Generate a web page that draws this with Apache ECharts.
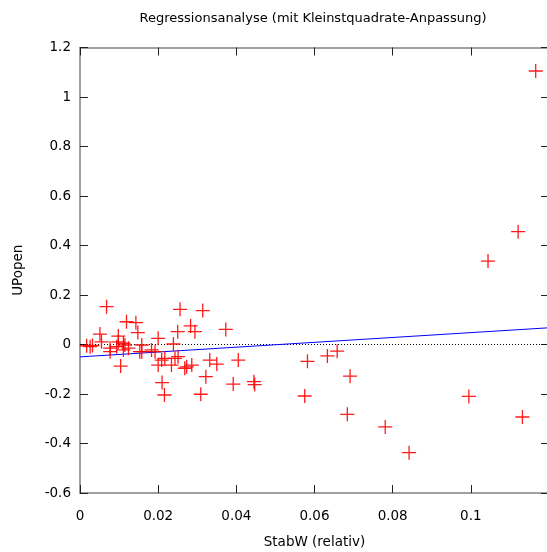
<!DOCTYPE html>
<html>
<head>
<meta charset="utf-8">
<script src="https://cdn.jsdelivr.net/npm/echarts@6/dist/echarts.min.js"></script>
<style>html,body{margin:0;padding:0;background:#fff;}#c{width:547px;height:552px;}</style>
</head>
<body>
<div id="c"></div>
<script>
// StabW (relativ) values
const stabW = [
  0.1166, 0.1121, 0.1044, 0.1132, 0.0995, 0.0842, 0.0781, 0.0684, 0.0691, 0.0575,
  0.0582, 0.0633, 0.0658, 0.0445, 0.0447,
  0.0068, 0.0256, 0.0314, 0.0119, 0.0143, 0.0283, 0.0373, 0.0148, 0.0051, 0.0250,
  0.0294, 0.0098, 0.0200, 0.0239, 0.0017, 0.0026, 0.0055, 0.0077, 0.0094, 0.0111,
  0.0115, 0.0158, 0.0183, 0.0192, 0.0209, 0.0217, 0.0243, 0.0251, 0.0200, 0.0234,
  0.0273, 0.0286, 0.0332, 0.0350, 0.0405, 0.0104, 0.0322, 0.0392, 0.0210, 0.0216,
  0.0309, 0.0268, 0.0111, 0.0124, 0.0158, 0.0098, 0.0153, 0.0077, 0.0032
];
// UPopen values
const upOpen = [
  1.105, 0.456, 0.337, -0.293, -0.210, -0.437, -0.333, -0.282, -0.128, -0.208,
  -0.068, -0.046, -0.027, -0.150, -0.162,
  0.153, 0.142, 0.137, 0.092, 0.088, 0.075, 0.061, 0.048, 0.042, 0.052,
  0.052, 0.034, 0.025, 0.002, -0.005, -0.009, 0.011, -0.015, -0.009, -0.022,
  -0.002, -0.029, -0.022, -0.029, -0.063, -0.056, -0.056, -0.049, -0.083, -0.083,
  -0.090, -0.083, -0.063, -0.079, -0.063, -0.087, -0.130, -0.160, -0.154, -0.204,
  -0.201, -0.096, 0.005, -0.015, -0.002, 0.011, -0.029, -0.029, -0.004
];
// least squares fit line endpoints (x) and values (y)
const fitX = [0, 0.12];
const fitY = [-0.050, 0.0676];
// zero reference line
const zeroX = [0, 0.12];
const zeroY = [0, 0];

const xTicks = ['0', '0.02', '0.04', '0.06', '0.08', '0.1'];
const yTicks = ['-0.6', '-0.4', '-0.2', '0', '0.2', '0.4', '0.6', '0.8', '1', '1.2'];

const font = '"DejaVu Sans", Verdana, sans-serif';
const fmt = v => String(parseFloat(Number(v).toFixed(2)));

const chart = echarts.init(document.getElementById('c'));
const axisLine = { show: true, onZero: false, lineStyle: { color: '#808080', width: 1.5 } };
const axisTick = { show: true, inside: true, length: 8, lineStyle: { color: '#222', width: 1 } };

chart.setOption({
  backgroundColor: '#fff',
  animation: false,
  title: {
    text: 'Regressionsanalyse (mit Kleinstquadrate-Anpassung)',
    left: 308, top: 7, textAlign: 'center',
    textStyle: { fontFamily: font, fontSize: 13, fontWeight: 'normal', color: '#000' }
  },
  grid: { left: 80, right: -2, top: 47.5, bottom: 59, outerBoundsMode: 'none', containLabel: false },
  xAxis: [{
    type: 'value', min: 0, max: 0.12, interval: 0.02, position: 'bottom',
    name: 'StabW (relativ)', nameLocation: 'middle', nameGap: 42,
    nameTextStyle: { fontFamily: font, fontSize: 13.5, color: '#000' },
    axisLine, axisTick, splitLine: { show: false },
    axisLabel: { margin: 16, fontFamily: font, fontSize: 13.5, color: '#000',
      formatter: v => { const s = fmt(v); return xTicks.indexOf(s) >= 0 ? s : ''; } }
  }, {
    type: 'value', min: 0, max: 0.12, interval: 0.02, position: 'top',
    axisLine, axisTick, splitLine: { show: false }, axisLabel: { show: false }
  }],
  yAxis: [{
    type: 'value', min: -0.6, max: 1.2, interval: 0.2, position: 'left',
    name: 'UPopen', nameLocation: 'middle', nameGap: 55, nameRotate: 90,
    nameTextStyle: { fontFamily: font, fontSize: 13.5, color: '#000' },
    axisLine, axisTick, splitLine: { show: false },
    axisLabel: { margin: 9, fontFamily: font, fontSize: 13.5, color: '#000',
      formatter: v => { const s = fmt(v); return yTicks.indexOf(s) >= 0 ? s : ''; } }
  }, {
    type: 'value', min: -0.6, max: 1.2, interval: 0.2, position: 'right',
    axisLine, axisTick, splitLine: { show: false }, axisLabel: { show: false }
  }],
  series: [
    {
      type: 'line', data: zeroX.map((x, i) => [x, zeroY[i]]), symbol: 'none',
      lineStyle: { color: '#000', width: 1, type: [1, 2] }, silent: true, z: 1
    },
    {
      type: 'line', data: fitX.map((x, i) => [x, fitY[i]]), symbol: 'none',
      lineStyle: { color: '#0000ff', width: 1 }, silent: true, z: 2
    },
    {
      type: 'scatter', data: stabW.map((x, i) => [x, upOpen[i]]),
      symbol: 'path://M5.9,0H7.1V13H5.9ZM0,5.9H13V7.1H0Z', symbolSize: 14,
      itemStyle: { color: '#ff0000', opacity: 0.9 }, z: 3
    }
  ]
});
</script>
</body>
</html>
